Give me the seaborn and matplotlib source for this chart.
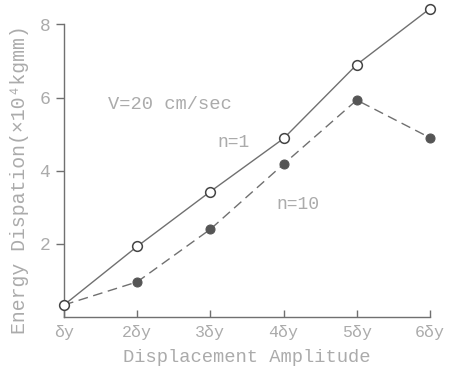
import matplotlib
matplotlib.use("Agg")
import matplotlib.pyplot as plt
import seaborn as sns
import pandas as pd

amp = [1, 2, 3, 4, 5, 6]
amp_labels = ["δy", "2δy", "3δy", "4δy", "5δy", "6δy"]
n1 = [0.33, 1.93, 3.43, 4.88, 6.9, 8.43]
n10 = [0.33, 0.96, 2.4, 4.18, 5.93, 4.9]
yticks = [2, 4, 6, 8]

sns.set_style("ticks")
plt.rcParams["font.family"] = ["Liberation Mono", "DejaVu Sans Mono"]

TXT = "#ababab"
LINE = "#707070"

fig = plt.figure(figsize=(4.55, 3.69), dpi=100)
ax = fig.add_axes([0.1407, 0.1409, 0.945 - 0.1407, 0.934 - 0.1409])

df1 = pd.DataFrame({"amp": amp, "E": n1})
df10 = pd.DataFrame({"amp": amp, "E": n10})

sns.lineplot(data=df10, x="amp", y="E", ax=ax, color=LINE, lw=1.0,
             dashes=False, marker="o", markersize=6.5, markerfacecolor="#555555",
             markeredgecolor="#555555", clip_on=False, zorder=3)
ax.lines[-1].set_dashes([7, 4])
sns.lineplot(data=df1, x="amp", y="E", ax=ax, color=LINE, lw=1.0,
             marker="o", markersize=7, markerfacecolor="white",
             markeredgecolor="#444444", markeredgewidth=1.1, clip_on=False, zorder=4)

ax.set_xlim(1, 6)
ax.set_ylim(0, 8)
ax.set_xticks(amp)
ax.set_xticklabels(amp_labels)
ax.set_yticks(yticks)
ax.tick_params(axis="x", direction="in", length=5, width=1, color=LINE,
               labelcolor=TXT, labelsize=12, pad=6)
ax.tick_params(axis="y", direction="out", length=6, width=1, color=LINE,
               labelcolor=TXT, labelsize=13, pad=4)
for s in ["top", "right"]:
    ax.spines[s].set_visible(False)
for s in ["left", "bottom"]:
    ax.spines[s].set_color(LINE)
    ax.spines[s].set_linewidth(1.0)

ax.set_xlabel("Displacement Amplitude", fontsize=13.5, color=TXT, labelpad=6)
ax.set_ylabel("Energy Dispation(×10⁴kgmm)", fontsize=14.3, color=TXT)
ax.yaxis.set_label_coords(-0.095, 0.47)

ax.text(1.6, 5.8, "V=20 cm/sec", fontsize=13.5, color=TXT, ha="left", va="center")
ax.text(3.31, 4.77, "n=1", fontsize=13, color=TXT, ha="center", va="center")
ax.text(4.2, 3.07, "n=10", fontsize=13, color=TXT, ha="center", va="center")

fig.savefig("out.png", dpi=100)
